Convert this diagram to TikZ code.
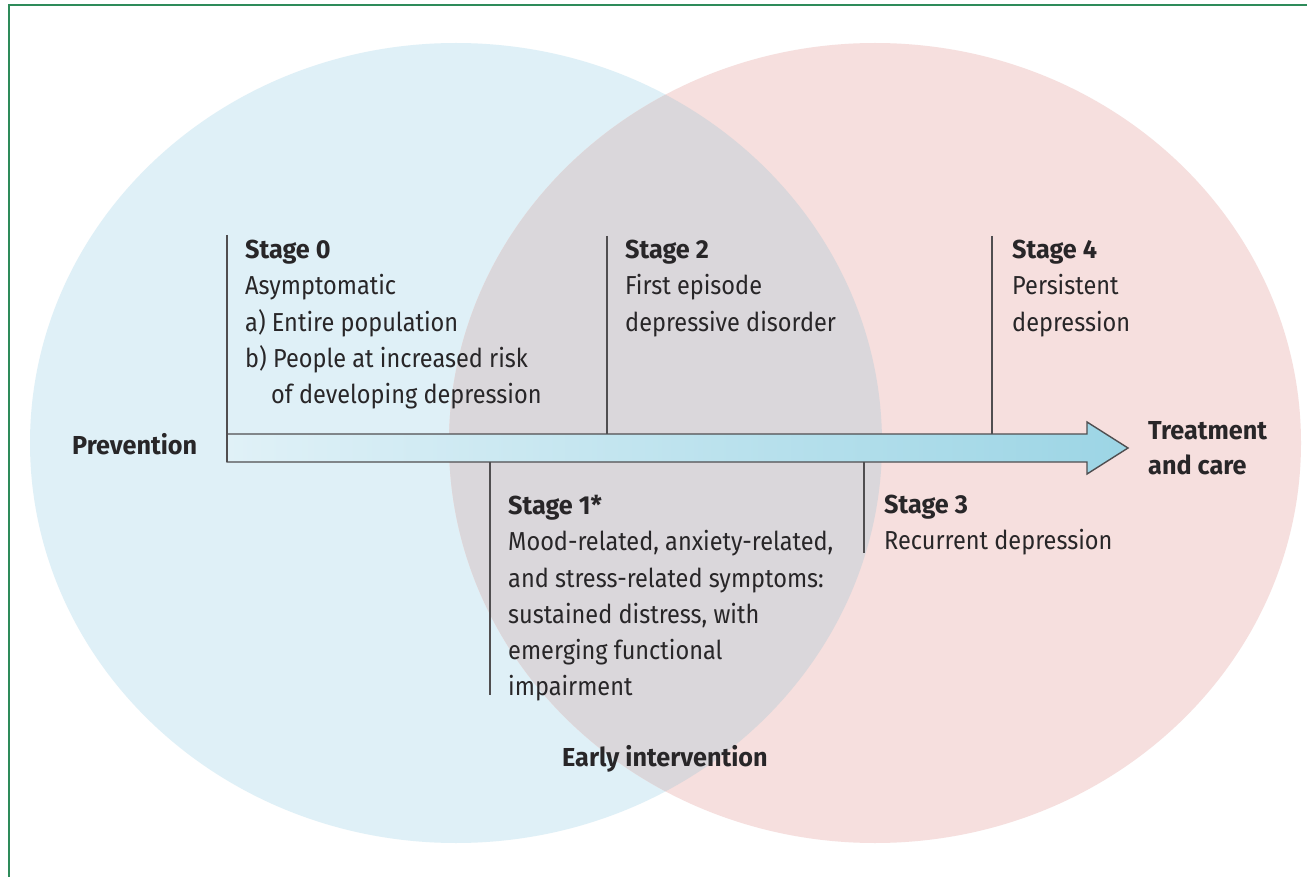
\documentclass[tikz,border=0pt]{standalone}
\usepackage{fontspec}
\setmainfont{Fira Sans}[FakeStretch=0.905, BoldFeatures={FakeStretch=0.97}]
\definecolor{preventblue}{RGB}{223,240,247}
\definecolor{treatpink}{RGB}{246,223,222}
\definecolor{overlapgrey}{RGB}{218,215,219}
\definecolor{arrowlight}{RGB}{224,241,247}
\definecolor{arrowdark}{RGB}{156,213,229}
\definecolor{framegreen}{RGB}{46,139,90}
\definecolor{inkgrey}{RGB}{40,38,40}
\definecolor{rulegrey}{RGB}{80,78,80}
\tikzset{
  stagetext/.style={anchor=north west, inner sep=0pt, align=left, text=inkgrey,
    font=\fontsize{26}{36.3}\selectfont},
  headtext/.style={anchor=north west, inner sep=0pt, align=left, text=inkgrey,
    font=\fontsize{26}{35}\selectfont\bfseries},
  stageline/.style={draw=rulegrey, line width=1.6pt},
}
\begin{document}
\begin{tikzpicture}[x=1pt,y=-1pt]
\useasboundingbox (0,0) rectangle (1307,877);
\fill[white] (0,0) rectangle (1307,877);

% the two overlapping fields
\fill[preventblue] (456,443) ellipse [x radius=426pt, y radius=400pt];
\fill[treatpink] (875,443) ellipse [x radius=426pt, y radius=400pt];
\begin{scope}
  \clip (456,443) ellipse [x radius=426pt, y radius=400pt];
  \fill[overlapgrey] (875,443) ellipse [x radius=426pt, y radius=400pt];
\end{scope}

% frame
\draw[framegreen, line width=2.8pt] (9,877) -- (9,5) -- (1307,5);

% timeline arrow
\shade[left color=arrowlight, right color=arrowdark]
  (227,434) -- (1087,434) -- (1087,422) -- (1128,448) -- (1087,474) -- (1087,462) -- (227,462) -- cycle;
\draw[rulegrey, line width=1.4pt, line join=miter]
  (227,434) -- (1087,434) -- (1087,422) -- (1128,448) -- (1087,474) -- (1087,462) -- (227,462) -- cycle;

% stage markers
\coordinate (s0top) at (227,235);  \coordinate (s0bot) at (227,462);
\coordinate (s2top) at (607,236);  \coordinate (s2bot) at (607,434);
\coordinate (s4top) at (992,236);  \coordinate (s4bot) at (992,434);
\coordinate (s1top) at (490,462);  \coordinate (s1bot) at (490,695);
\coordinate (s3top) at (864,462);  \coordinate (s3bot) at (864,553);
\draw[stageline] (s0top) -- (s0bot);
\draw[stageline] (s2top) -- (s2bot);
\draw[stageline] (s4top) -- (s4bot);
\draw[stageline] (s1top) -- (s1bot);
\draw[stageline] (s3top) -- (s3bot);

% stage descriptions
\node[stagetext] (stage0) at (245,240) {\textbf{Stage 0}\\Asymptomatic\\a) Entire population\\b) People at increased risk\\\hspace*{26pt}of developing depression};
\node[stagetext] (stage2) at (625,240) {\textbf{Stage 2}\\First episode\\depressive disorder};
\node[stagetext] (stage4) at (1012,240) {\textbf{Stage 4}\\Persistent\\depression};
\node[stagetext] (stage1) at (508,495) {\textbf{Stage 1*}\\Mood-related, anxiety-related,\\and stress-related symptoms:\\sustained distress, with\\emerging functional\\impairment};
\node[stagetext] (stage3) at (884,495) {\textbf{Stage 3}\\Recurrent depression};

% field labels
\node[headtext] (prevention) at (72,433) {Prevention};
\node[headtext] (treatment) at (1148,421) {Treatment\\and care};
\node[headtext, anchor=north] (early) at (665,745) {Early intervention};
\end{tikzpicture}
\end{document}
